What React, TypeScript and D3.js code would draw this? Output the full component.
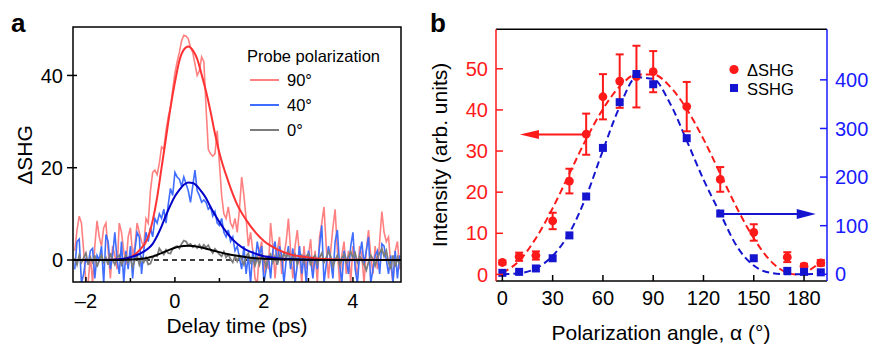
import React from 'react';
import * as d3 from 'd3';

const W = 873;
const H = 345;
const FONT = "'Liberation Sans', Arial, Helvetica, sans-serif";

// ---- panel a: pump-probe traces, sampled every 0.05 ps from -2.25 ps ----
const delayStart = -2.25;
const delayStep = 0.05;

const trace90 = [
  2, 6.5, 9.5, 8, 2, -5, -5, 1, -5, 3, 8.5, 5, 3, 7, 8, 2, -4, 3, 1, -2, 8, 6, 2, -1, 5, 7, 1, 3, 8, 6, 4,
  3, 9, 8, 15, 19, 19.5, 18.5, 21, 24.5, 24, 28, 31, 33, 37, 40.5, 43, 45, 47.5, 48.7, 48.5, 48, 46, 45, 42.5, 40,
  41, 44, 43, 33, 24, 23, 22.5, 23, 28, 21, 14, 10, 9, 11.5, 8, 7, 9, 6, 11, 18, 14, 9, 3, 6, 2, -4,
  -5, 2, 4, -3, 1, -2, 8, 3, -4, 2, 5, -3, 1, 4, 9, 2, -4, 3, 6.5, 1, -5, 3, -2, 1, 4.5, -3, 2, -5, 5, 8,
  11.5, 3, -4, 2, 7, 11, 2, -5, 1, 4, -3, 2, -5, 3, 0, -4, 3, 1, -5, 2, 6.5, 1, -3, 3, -2, 4, 10.5, 6, 4,
  5, -1, -5, 2, 4, -2,
];
const trace40 = [
  -2, 4, 4.5, -5, -3, 0.5, -1, 2, 2.5, -4, 1, 0, 3, -5, 5.5, 4, -2, 1, 6, 0, -3, 4, -5, 2, -2, 3, -4, 2, 6, 5, -3,
  2, 6, 4, 7, 5, 9, 8, 10, 9, 11, 8, 12, 15.5, 14, 19, 18, 17.5, 16, 18, 16.5, 15, 12.5, 16, 19.5, 15,
  14, 12.5, 13, 12.5, 11, 11.5, 9.5, 10.5, 8, 7.5, 9, 6, 5, 6.5, 4, 5, 2, 3, 0.5, -2, 3, -3, 1, -5, 2, -1,
  4, 1, 3, -5, -2, 1, -4, 2, 4, -1, 3, 1, -5, 0, 3, -2, 2.5, -5, -1, 3, -3, 1, -5, 2, 0, -4, 1, -2, 3, 7.5,
  -5, -1, 3, 0, -4, 4, 6.5, -1, -5, 2, 0, -3, 3, 6, -2, -5, 1, 4, -1, 2, 5, -5, -2, 1, 2, -3, 3.5, 3, 0,
  -3, 1, -5, 2, -4, 1,
];
const trace0 = [
  0.5, -1, 1, -0.5, 0.5, 1.5, -1, 0.5, -0.5, 1, -1.5, 0, 1, -0.5, 0.5, -1, 1.5, 0, -1, 0.5, 1, -1, 0, 1, -0.5, 0.5, -1.5, 0, 1, -1, 0.5,
  -0.5, 0.5, -1, -0.8, 0.5, 1, 0.8, 2.5, 1.8, 1.2, 2.2, 1.5, 1.4, 2.5, 2.8, 3, 2.5, 3.5, 4.2, 4, 3.2, 3.5, 2.8, 3.2, 2.6,
  3.3, 2.5, 3.3, 2.7, 3.2, 2.2, 1.5, 2.4, 1.8, 1.2, 0.8, 1.8, 0.6, 1.2, 0.2, -0.5, 0.8, -0.3, 1, 0.2, -1, 0.8, 1.5, -0.5, 0.5, -1.2,
  0.5, -1, 1, 0, -1.5, 0.5, 1.2, -0.5, 0.8, -1, 1, 0, 1.5, 0.5, 1.8, -0.5, 0.5, 1.2, -1, 0.3, 1, -0.5, 0.8, 1.3, -1.2, 0.5,
  1, -0.8, 0.5, 1.5, -0.5, 0.5, 1.8, 0.8, -1.4, 0, 1, -1, 0.5, 1.2, -0.5, 0.8, 1.8, 0.5, 1.5, -0.5, 0.8, 0, -1, -2.2, -0.5,
  1, 0.2, -1.2, 0.5, 1.5, 2.5, 0.8, 2, -0.5, -2, 1, -1.5, 0.5, -1,
];

// fitted curves
const fitTimes = [-2.3, -1.6, -1.2, -1.0, -0.8, -0.6, -0.5, -0.4, -0.3, -0.2, -0.1, 0.0, 0.1, 0.2, 0.3, 0.4, 0.5, 0.6, 0.7, 0.8, 0.9, 1.0, 1.2, 1.4, 1.6, 1.8, 2.0, 2.3, 2.6, 3.0, 3.5, 4.0, 5.1];
const fit90 = [0, 0, 0.15, 0.6, 2.1, 5, 8.5, 13.5, 20, 26.5, 33, 38.5, 43.2, 45.6, 46.3, 45.5, 43.6, 40.2, 36.5, 32.2, 27.4, 23.2, 17, 12, 8.7, 6.1, 4.1, 2.3, 1.2, 0.55, 0.15, 0.05, 0];
const fit40 = [0, 0, 0.2, 0.6, 1.3, 2.5, 3.5, 5.2, 7.3, 9.7, 11.9, 13.8, 15.2, 16.3, 16.8, 16.7, 16, 14.8, 13.4, 11.5, 9.8, 8.2, 5.5, 3.5, 2.2, 1.4, 0.8, 0.4, 0.2, 0.05, 0, 0, 0];
const fit0 = [0, 0, 0.02, 0.08, 0.2, 0.5, 0.75, 1.1, 1.5, 1.9, 2.3, 2.65, 2.9, 3.05, 3.1, 3.05, 2.9, 2.7, 2.45, 2.2, 1.95, 1.7, 1.25, 0.9, 0.6, 0.4, 0.28, 0.15, 0.08, 0.03, 0, 0, 0];

const delayTicks = [-2, 0, 2, 4];
const delayMinorTicks = [-1, 1, 3];
const shgTicks = [0, 20, 40];
const probeLabels = ['90°', '40°', '0°'];

// ---- panel b: polarization dependence ----
const angles = [0, 10, 20, 30, 40, 50, 60, 70, 80, 90, 110, 130, 150, 170, 180, 190];
const deltaShg = [2.9, 4.3, 4.6, 13.0, 22.7, 34.1, 43.2, 47.0, 48.1, 49.3, 40.8, 23.1, 10.2, 4.2, 2.0, 2.8];
const deltaShgErr = [0.5, 1, 1, 2, 3, 5, 5.5, 6.5, 7.5, 5, 6, 3, 2, 1.2, 0.6, 0.7];
const sShg = [3, 5, 12, 33, 80, 160, 260, 354, 412, 391, 280, 125, 33, 7, 5, 4];

const fitAngles = [0, 10, 20, 30, 40, 50, 60, 70, 80, 90, 100, 110, 120, 130, 140, 150, 160, 170, 175, 180, 190];
const deltaShgFit = [0.4, 3.3, 8.8, 16.1, 24.5, 32.9, 40.2, 45.7, 48.6, 48.6, 45.7, 40.2, 32.9, 24.5, 16.1, 8.8, 3.3, 0.4, 0, 0.4, 3.1];
const sShgFit = [0, 2, 12, 38, 85, 160, 255, 345, 405, 402, 352, 275, 195, 125, 57, 18, 3, 0, 0, 0, 1];

const angleTicks = [0, 30, 60, 90, 120, 150, 180];
const leftTicks = [0, 10, 20, 30, 40, 50];
const rightTicks = [0, 100, 200, 300, 400];
const legendB = ['ΔSHG', 'SSHG'];
const redArrow = { from: 50, to: 10.5, value: 34 };
const blueArrow = { from: 130, to: 187, value: 124 };

const C_RED_TR = '#ff8080';
const C_RED_FIT = '#ff3333';
const C_BLUE_TR = '#3f6dff';
const C_BLUE_FIT = '#0000c8';
const C_GRAY = '#7c7c7c';
const C_RED = '#ff1a1a';
const C_BLUE = '#1515d0';
const C_BLUE_AX = '#1a1aff';
const traceColors = [C_RED_TR, C_BLUE_TR, C_GRAY];

export default function App() {
  // panel a scales
  const xA = d3.scaleLinear().domain([-2.29, 5.08]).range([73, 401]);
  const yA = d3.scaleLinear().domain([-4.77, 50.5]).range([282, 27]);
  const lineA = d3.line<number>()
    .x((_, i) => xA(delayStart + i * delayStep))
    .y(d => yA(d));
  const fitLine = (vals: number[]) =>
    d3.line<number>().x((_, i) => xA(fitTimes[i])).y(d => yA(d)).curve(d3.curveMonotoneX)(vals) || '';

  // panel b scales
  const xB = d3.scaleLinear().domain([-3.8, 193.7]).range([496, 827]);
  const yL = d3.scaleLinear().domain([-1.6, 59.6]).range([281, 29.3]);
  const yR = d3.scaleLinear().domain([-13.8, 504]).range([281, 29.3]);
  const redFit = d3.line<number>().x((_, i) => xB(fitAngles[i])).y(d => yL(d)).curve(d3.curveMonotoneX)(deltaShgFit) || '';
  const blueFit = d3.line<number>().x((_, i) => xB(fitAngles[i])).y(d => yR(d)).curve(d3.curveMonotoneX)(sShgFit) || '';

  const [a0, a1] = xA.range();
  const [aB, aT] = yA.range();
  const [b0, b1] = xB.range();
  const [bB, bT] = yL.range();

  const ra = { x1: xB(redArrow.from), x2: xB(redArrow.to), y: yL(redArrow.value) };
  const ba = { x1: xB(blueArrow.from), x2: xB(blueArrow.to), y: yR(blueArrow.value) };

  return (
    <svg width={W} height={H} style={{ position: 'absolute', left: 0, top: 0, background: '#fff' }} fontFamily={FONT}>
      <defs>
        <clipPath id="clipA">
          <rect x={a0} y={aT} width={a1 - a0} height={aB - aT} />
        </clipPath>
      </defs>

      {/* ---------- panel a ---------- */}
      <text x={11} y={32} fontSize={26} fontWeight="bold">a</text>
      <g clipPath="url(#clipA)">
        <line x1={a0} x2={a1} y1={yA(0)} y2={yA(0)} stroke="#000" strokeWidth={1.5} strokeDasharray="5,4" />
        <path d={lineA(trace90) || ''} fill="none" stroke={C_RED_TR} strokeWidth={1.6} />
        <path d={lineA(trace40) || ''} fill="none" stroke={C_BLUE_TR} strokeWidth={1.6} />
        <path d={lineA(trace0) || ''} fill="none" stroke={C_GRAY} strokeWidth={1.8} />
        <path d={fitLine(fit90)} fill="none" stroke={C_RED_FIT} strokeWidth={2} />
        <path d={fitLine(fit40)} fill="none" stroke={C_BLUE_FIT} strokeWidth={2} />
        <path d={fitLine(fit0)} fill="none" stroke="#000" strokeWidth={2} />
      </g>
      <rect x={a0} y={aT} width={a1 - a0} height={aB - aT} fill="none" stroke="#000" strokeWidth={1.5} />
      {delayTicks.map(t => (
        <g key={'dt' + t}>
          <line x1={xA(t)} x2={xA(t)} y1={aB} y2={aB - 5} stroke="#000" strokeWidth={1.5} />
          <text x={xA(t)} y={308} fontSize={20} textAnchor="middle">{t < 0 ? '–' + Math.abs(t) : t}</text>
        </g>
      ))}
      {delayMinorTicks.map(t => (
        <line key={'dm' + t} x1={xA(t)} x2={xA(t)} y1={aB} y2={aB - 4} stroke="#000" strokeWidth={1.5} />
      ))}
      {shgTicks.map(t => (
        <g key={'st' + t}>
          <line x1={a0 - 6} x2={a0 + 4} y1={yA(t)} y2={yA(t)} stroke="#000" strokeWidth={1.5} />
          <text x={63} y={yA(t)} dy="0.36em" fontSize={20} textAnchor="end">{t}</text>
        </g>
      ))}
      <text x={237} y={333} fontSize={21} textAnchor="middle">Delay time (ps)</text>
      <text transform="translate(32,155) rotate(-90)" fontSize={21} textAnchor="middle">ΔSHG</text>
      <text x={247} y={62} fontSize={16.5}>Probe polarization</text>
      {probeLabels.map((l, i) => (
        <g key={l}>
          <line x1={250} x2={279} y1={80 + i * 25} y2={80 + i * 25} stroke={traceColors[i]} strokeWidth={2} />
          <text x={287} y={86 + i * 25} fontSize={16.5}>{l}</text>
        </g>
      ))}

      {/* ---------- panel b ---------- */}
      <text x={430} y={32} fontSize={26} fontWeight="bold">b</text>
      <path d={redFit} fill="none" stroke={C_RED} strokeWidth={2} strokeDasharray="7,4" />
      <path d={blueFit} fill="none" stroke={C_BLUE} strokeWidth={2} strokeDasharray="7,4" />

      {/* arrows */}
      <line x1={ra.x1} x2={ra.x2 + 12} y1={ra.y} y2={ra.y} stroke={C_RED} strokeWidth={2} />
      <polygon points={`${ra.x2},${ra.y} ${ra.x2 + 19},${ra.y - 4.5} ${ra.x2 + 19},${ra.y + 4.5}`} fill={C_RED} />
      <line x1={ba.x1} x2={ba.x2 - 12} y1={ba.y} y2={ba.y} stroke={C_BLUE} strokeWidth={2} />
      <polygon points={`${ba.x2},${ba.y} ${ba.x2 - 19},${ba.y - 5} ${ba.x2 - 19},${ba.y + 5}`} fill={C_BLUE} />

      {/* error bars + circles */}
      {angles.map((a, i) => {
        const x = xB(a);
        const yt = yL(deltaShg[i] + deltaShgErr[i]);
        const yb = yL(deltaShg[i] - deltaShgErr[i]);
        return (
          <g key={'e' + a} stroke={C_RED} strokeWidth={2}>
            <line x1={x} x2={x} y1={yt} y2={yb} />
            <line x1={x - 4} x2={x + 4} y1={yt} y2={yt} />
            <line x1={x - 4} x2={x + 4} y1={yb} y2={yb} />
          </g>
        );
      })}
      {angles.map((a, i) => (
        <circle key={'c' + a} cx={xB(a)} cy={yL(deltaShg[i])} r={4.4} fill={C_RED} />
      ))}
      {angles.map((a, i) => (
        <rect key={'s' + a} x={xB(a) - 4} y={yR(sShg[i]) - 4} width={8} height={8} fill={C_BLUE} />
      ))}

      {/* frame */}
      <line x1={b0} x2={b1} y1={bT} y2={bT} stroke="#000" strokeWidth={1.5} />
      <line x1={b0} x2={b1} y1={bB} y2={bB} stroke="#000" strokeWidth={1.5} />
      <line x1={b0} x2={b0} y1={bT} y2={bB} stroke={C_RED} strokeWidth={1.5} />
      <line x1={b1} x2={b1} y1={bT} y2={bB} stroke={C_BLUE_AX} strokeWidth={1.5} />

      {angleTicks.map(t => (
        <g key={'at' + t}>
          <line x1={xB(t)} x2={xB(t)} y1={bB} y2={bB - 6} stroke="#000" strokeWidth={1.5} />
          <text x={xB(t)} y={305} fontSize={20} textAnchor="middle">{t}</text>
        </g>
      ))}
      {leftTicks.map(t => (
        <g key={'lt' + t}>
          <line x1={b0} x2={b0 + 7} y1={yL(t)} y2={yL(t)} stroke={C_RED} strokeWidth={1.5} />
          <text x={488} y={yL(t)} dy="0.36em" fontSize={20} textAnchor="end" fill={C_RED}>{t}</text>
        </g>
      ))}
      {rightTicks.map(t => (
        <g key={'rt' + t}>
          <line x1={b1} x2={b1 - 7} y1={yR(t)} y2={yR(t)} stroke={C_BLUE_AX} strokeWidth={1.5} />
          <text x={835} y={yR(t)} dy="0.36em" fontSize={20} fill={C_BLUE_AX}>{t}</text>
        </g>
      ))}
      <text x={661} y={340} fontSize={21} textAnchor="middle">Polarization angle, α (°)</text>
      <text transform="translate(447,155) rotate(-90)" fontSize={21} textAnchor="middle">Intensity (arb. units)</text>

      {/* legend b */}
      <circle cx={734} cy={69.5} r={4.6} fill={C_RED} />
      <text x={747} y={75.5} fontSize={16.5}>{legendB[0]}</text>
      <rect x={730} y={84} width={8} height={8} fill={C_BLUE} />
      <text x={747} y={94.5} fontSize={16.5}>{legendB[1]}</text>
    </svg>
  );
}
